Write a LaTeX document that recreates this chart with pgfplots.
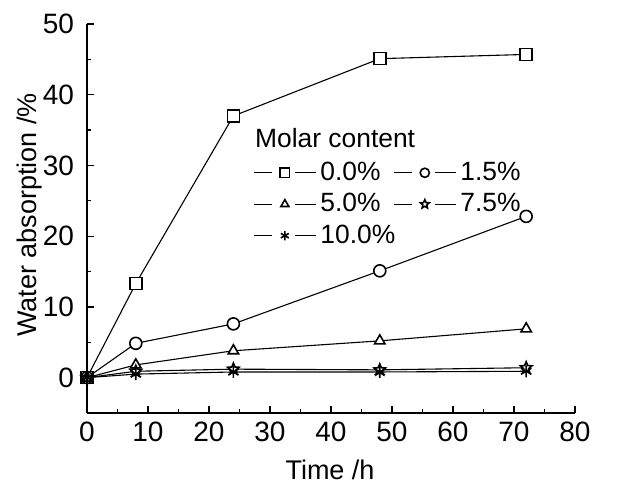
\documentclass[border=0pt]{standalone}
\usepackage{fontspec}
\setmainfont{Liberation Sans}
\usepackage{pgfplots}
\pgfplotsset{compat=1.18}
\usetikzlibrary{plotmarks}

% open five-point star
\pgfdeclareplotmark{ostar}{%
  \pgfpathmoveto{\pgfpointpolar{90}{\pgfplotmarksize}}%
  \pgfpathlineto{\pgfpointpolar{126}{0.45\pgfplotmarksize}}%
  \pgfpathlineto{\pgfpointpolar{162}{\pgfplotmarksize}}%
  \pgfpathlineto{\pgfpointpolar{198}{0.45\pgfplotmarksize}}%
  \pgfpathlineto{\pgfpointpolar{234}{\pgfplotmarksize}}%
  \pgfpathlineto{\pgfpointpolar{270}{0.45\pgfplotmarksize}}%
  \pgfpathlineto{\pgfpointpolar{306}{\pgfplotmarksize}}%
  \pgfpathlineto{\pgfpointpolar{342}{0.45\pgfplotmarksize}}%
  \pgfpathlineto{\pgfpointpolar{18}{\pgfplotmarksize}}%
  \pgfpathlineto{\pgfpointpolar{54}{0.45\pgfplotmarksize}}%
  \pgfpathclose\pgfusepathqfillstroke}

\begin{document}
\begin{tikzpicture}
\useasboundingbox (-43.5pt,-37pt) rectangle (270.5pt,206.5pt);
\begin{axis}[
    scale only axis,
    width=244pt, height=194.5pt,
    xmin=0, xmax=80, ymin=-5, ymax=50,
    xtick={0,10,...,80}, ytick={0,10,...,50},
    minor x tick num=1, minor y tick num=1,
    axis x line*=bottom, axis y line*=left,
    tick align=inside,
    major tick length=3.5pt, minor tick length=2pt,
    axis line style={line width=0.75pt},
    every tick/.style={black, line width=0.6pt},
    /pgf/number format/assume math mode=true,
    tick label style={font=\fontsize{14}{16}\selectfont},
    x tick label style={yshift=-1pt},
    y tick label style={xshift=-3pt},
    label style={font=\fontsize{13.5}{16}\selectfont},
    xlabel={Time /h},
    ylabel={Water absorption /\%},
    xlabel style={at={(axis description cs:0.498,-0.147)}, anchor=center},
    ylabel style={at={(axis description cs:-0.117,0.509)}, anchor=center},
    every axis plot/.append style={black, line width=0.55pt, mark size=3pt,
        mark options={fill=white, line width=0.8pt, solid}},
    legend columns=2,
    legend cell align=left,
    legend style={draw=none, fill=none, at={(axis cs:27.2,31.1)}, anchor=north west,
        inner sep=0pt, row sep=1pt,
        font=\fontsize{13.2}{15.5}\selectfont,
        /tikz/every even column/.append style={column sep=-3pt}},
    legend image code/.code={%
        \draw[#1, mark=none] (0pt,0pt) -- (9pt,0pt);
        \draw[#1, mark=none] (20.5pt,0pt) -- (31pt,0pt);
        \draw[#1, mark size=2.3pt] plot coordinates {(15.5pt,0pt)};},
]
\addplot[mark=square*] coordinates {(0,0) (8,13.3) (24,37.0) (48,45.1) (72,45.7)};
\addlegendentry{0.0\%}
\addplot[mark=*] coordinates {(0,0) (8,4.85) (24,7.6) (48,15.1) (72,22.8)};
\addlegendentry{1.5\%}
\addplot[mark=triangle*] coordinates {(0,0) (8,1.8) (24,3.8) (48,5.2) (72,6.9)};
\addlegendentry{5.0\%}
\addplot[mark=ostar] coordinates {(0,0) (8,0.9) (24,1.2) (48,1.1) (72,1.4)};
\addlegendentry{7.5\%}
\addplot[mark=asterisk] coordinates {(0,0) (8,0.5) (24,0.8) (48,0.8) (72,0.9)};
\addlegendentry{10.0\%}
\node[anchor=west, inner sep=0pt, font=\fontsize{13.2}{15.5}\selectfont] at (axis cs:27.5,33.9) {Molar content};
\end{axis}
\end{tikzpicture}
\end{document}
